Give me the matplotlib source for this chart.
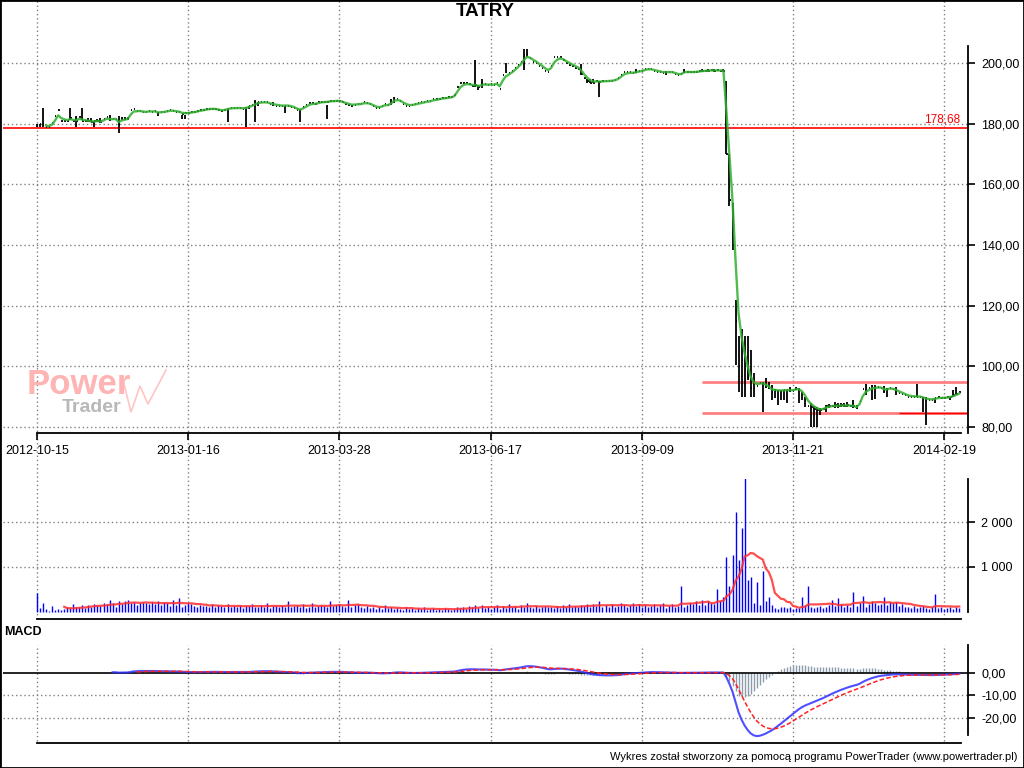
import numpy as np
import pandas as pd
import matplotlib
matplotlib.use("Agg")
import matplotlib.pyplot as plt
from matplotlib.lines import Line2D
from matplotlib.patches import Rectangle
from matplotlib.transforms import blended_transform_factory

W, H = 1024, 768

# --- dane ---
date_labels = ["2012-10-15", "2013-01-16", "2013-03-28", "2013-06-17",
               "2013-09-09", "2013-11-21", "2014-02-19"]
tick_bars = [0, 50, 100, 150, 200, 250, 300]

close = [
    179.5, 179.8, 180.0, 179.0, 179.0, 180.2, 182.5, 184.4, 181.0, 181.0,
    181.0, 181.8, 181.0, 181.0, 182.2, 181.0, 181.0, 180.8, 180.5, 180.8,
    181.0, 180.5, 181.5, 182.2, 181.3, 181.6, 181.6, 179.5, 181.6, 181.6,
    181.8, 184.5, 185.0, 184.2, 184.3, 183.8, 183.8, 184.2, 184.0, 184.1,
    183.4, 183.8, 184.0, 184.2, 184.5, 184.3, 184.0, 183.8, 183.2, 183.4,
    183.5, 183.8, 184.0, 184.2, 184.5, 184.6, 184.8, 185.0, 185.0, 184.8,
    184.5, 184.2, 184.6, 185.0, 185.3, 185.2, 185.2, 185.2, 185.0, 185.2,
    185.8, 186.2, 186.8, 187.2, 187.2, 187.1, 187.0, 186.5, 186.3, 186.0,
    186.0, 185.8, 186.0, 186.0, 185.6, 185.2, 184.5, 184.2, 185.5, 186.2,
    186.8, 186.8, 186.6, 187.0, 187.3, 187.2, 187.3, 187.5, 187.5, 187.6,
    187.5, 187.0, 186.5, 186.3, 186.0, 186.3, 186.5, 186.5, 187.0, 186.8,
    186.5, 185.8, 185.2, 185.2, 185.8, 186.5, 186.2, 187.0, 188.5, 188.0,
    187.5, 186.5, 186.0, 185.8, 186.2, 186.5, 186.8, 187.0, 187.2, 187.5,
    187.5, 188.0, 188.0, 188.3, 188.5, 188.5, 188.7, 188.8, 189.5, 192.0,
    193.5, 193.5, 193.3, 193.0, 192.5, 192.8, 192.0, 193.0, 193.2, 192.8,
    193.0, 192.8, 193.5, 191.5, 196.0, 197.0, 196.8, 197.5, 198.5, 199.5,
    200.5, 202.5, 203.0, 201.5, 200.5, 200.0, 199.0, 198.5, 197.5, 197.0,
    199.0, 202.0, 202.0, 202.0, 201.0, 200.0, 199.5, 199.0, 198.5, 198.0,
    196.5, 195.0, 194.0, 193.5, 193.5, 194.0, 193.8, 194.0, 194.0, 194.2,
    194.2, 194.5, 195.0, 196.0, 197.0, 197.0, 197.0, 196.8, 197.0, 197.5,
    197.5, 198.0, 198.2, 198.0, 197.5, 197.2, 197.0, 196.8, 197.0, 197.0,
    197.0, 196.5, 196.0, 196.3, 197.5, 197.2, 197.0, 197.0, 197.2, 197.3,
    197.5, 197.5, 197.4, 197.8, 197.5, 197.6, 197.5, 197.5, 170.0, 155.0,
    140.0, 115.0, 100.0, 102.0, 99.0, 96.0, 93.0, 93.0, 93.5, 94.5,
    94.5, 93.5, 92.8, 91.5, 92.0, 92.0, 92.0, 92.2, 92.2, 92.2,
    92.0, 92.8, 92.5, 91.0, 89.0, 87.0, 86.5, 86.0, 85.5, 85.5,
    86.0, 87.0, 87.0, 87.0, 87.2, 87.0, 87.2, 87.0, 87.2, 87.0,
    86.8, 86.2, 88.5, 92.5, 93.0, 92.8, 93.2, 93.0, 93.2, 93.0,
    92.0, 92.2, 93.0, 92.5, 92.0, 91.2, 91.0, 90.5, 90.0, 90.0,
    90.0, 90.0, 90.0, 89.5, 89.0, 89.0, 89.0, 89.5, 89.8, 89.6,
    89.7, 89.8, 90.0, 90.5, 91.0, 91.5,
]

# (sesja, minimum, maksimum) dla sesji z widocznym zakresem
wicks = [
    (0, 178.9, 180.0), (1, 178.9, 180.0), (2, 178.9, 185.2), (11, 181.2, 185.1),
    (13, 178.9, 182.4), (15, 181.2, 185.1), (17, 180.5, 182.0), (18, 180.5, 182.0),
    (19, 178.9, 181.0), (20, 180.5, 181.5), (21, 180.2, 182.0), (24, 181.0, 182.8),
    (27, 176.8, 182.4), (28, 181.2, 182.2), (29, 181.2, 182.2), (30, 181.2, 182.2),
    (40, 182.4, 183.8), (48, 181.4, 182.8), (49, 181.4, 182.8), (63, 180.7, 185.1),
    (69, 178.9, 185.4), (70, 184.8, 186.0), (72, 180.4, 187.9), (73, 185.8, 187.3),
    (78, 186.0, 187.1), (82, 183.6, 185.9), (87, 180.5, 184.7), (96, 181.6, 186.3),
    (117, 186.2, 188.3), (118, 186.8, 188.9), (145, 192.2, 201.0), (146, 191.1, 192.8),
    (147, 191.8, 194.7), (155, 196.6, 200.0), (161, 197.7, 204.7), (162, 202.1, 204.7),
    (180, 196.1, 199.6), (182, 193.4, 194.7), (183, 193.4, 194.7), (184, 193.4, 194.7),
    (186, 188.9, 194.2), (198, 196.6, 197.9), (208, 196.0, 197.5), (214, 196.6, 197.9),
    (220, 197.0, 198.0), (222, 197.0, 198.0), (224, 197.0, 198.0), (227, 197.0, 198.2),
    (228, 169.9, 194.2), (229, 153.0, 169.9), (230, 138.4, 153.9), (231, 100.6, 121.9),
    (232, 91.7, 110.0), (233, 90.0, 112.2), (234, 90.0, 110.0), (235, 95.5, 110.0),
    (236, 90.0, 105.4), (237, 90.0, 97.8), (240, 85.0, 94.9), (241, 92.9, 96.1),
    (242, 92.5, 94.9), (243, 88.9, 93.8), (244, 89.6, 92.4), (245, 87.4, 92.2),
    (246, 88.9, 92.2), (247, 88.9, 92.2), (248, 87.8, 92.2), (249, 91.6, 93.1),
    (251, 92.2, 93.1), (252, 87.8, 92.8), (253, 88.9, 91.6), (254, 86.7, 90.0),
    (256, 80.1, 87.8), (257, 80.1, 86.9), (258, 80.1, 86.7), (259, 84.0, 86.2),
    (261, 85.1, 87.3), (262, 86.2, 87.6), (264, 86.2, 88.4), (265, 86.2, 87.8),
    (266, 86.7, 88.0), (267, 86.7, 88.0), (268, 86.7, 88.4), (270, 86.2, 88.9),
    (271, 85.8, 87.3), (274, 90.6, 94.2), (276, 88.9, 93.8), (277, 89.2, 93.8),
    (280, 91.1, 93.4), (281, 90.0, 92.8), (284, 90.6, 93.1), (291, 90.0, 94.2),
    (293, 85.1, 90.0), (294, 80.7, 90.0), (297, 88.0, 89.5), (302, 88.9, 90.0),
    (303, 90.0, 92.2), (304, 90.6, 93.1),
]

volume = [
    420, 90, 210, 60, 30, 125, 45, 60, 40, 70,
    110, 95, 180, 120, 110, 150, 80, 160, 120, 180,
    150, 140, 200, 170, 260, 190, 120, 250, 170, 240,
    260, 210, 230, 150, 200, 230, 190, 170, 220, 180,
    240, 150, 230, 200, 140, 260, 160, 300, 120, 150,
    200, 170, 140, 110, 160, 130, 140, 120, 180, 100,
    150, 130, 100, 170, 110, 140, 120, 150, 90, 140,
    130, 180, 110, 120, 150, 100, 200, 90, 130, 140,
    110, 160, 120, 250, 100, 130, 150, 110, 170, 90,
    120, 200, 110, 140, 160, 130, 100, 240, 130, 150,
    170, 140, 120, 260, 110, 150, 180, 120, 90, 140,
    80, 120, 60, 100, 70, 150, 90, 110, 60, 90,
    70, 50, 110, 60, 80, 40, 90, 60, 100, 50,
    60, 80, 40, 70, 50, 90, 60, 40, 70, 120,
    80, 110, 60, 140, 100, 150, 80, 160, 90, 120,
    60, 110, 150, 70, 130, 90, 180, 100, 140, 70,
    160, 120, 200, 110, 90, 140, 80, 120, 130, 100,
    110, 90, 130, 80, 150, 100, 170, 120, 140, 110,
    150, 130, 170, 110, 180, 140, 240, 120, 160, 100,
    170, 120, 140, 190, 160, 110, 150, 210, 130, 170,
    120, 160, 100, 140, 180, 120, 150, 200, 90, 130,
    170, 110, 140, 585, 120, 160, 200, 180, 250, 150,
    270, 160, 240, 200, 170, 500, 250, 330, 1215, 570,
    1275, 2215, 1163, 1867, 2993, 720, 770, 200, 667, 163,
    904, 250, 326, 150, 90, 70, 120, 100, 80, 110,
    60, 80, 90, 326, 150, 570, 120, 80, 100, 140,
    90, 120, 160, 260, 130, 311, 180, 100, 150, 120,
    452, 140, 200, 363, 120, 180, 240, 200, 150, 170,
    341, 160, 230, 190, 220, 140, 170, 120, 100, 90,
    130, 80, 110, 140, 90, 60, 100, 407, 80, 120,
    60, 90, 110, 70, 100, 80,
]

price_ticks = [80, 100, 120, 140, 160, 180, 200]
volume_ticks = [1000, 2000]
volume_tick_labels = ["1 000", "2 000"]
macd_ticks = [0, -10, -20]
support_level = 178.68
channel_top = 94.9
channel_bottom = 84.7
channel_start = 220

plt.rcParams['font.family'] = ['Liberation Sans', 'DejaVu Sans']


def rect(l, t, r, b):
    # prostokat w pikselach -> ulamki figury
    return [l / W, 1 - b / H, (r - l) / W, (b - t) / H]


def pl(v):
    return f"{v:.2f}".replace(".", ",")


n = len(close)
x = np.arange(n)
c = pd.Series(close, dtype=float)
x_lo, x_hi = -11.24, 307.87
last_x = n - 0.6
grid_c = '#808080'
dot = (0, (1, 2))

fig = plt.figure(figsize=(W / 100, H / 100), dpi=100)

# ---------- wykres ceny ----------
axp = fig.add_axes(rect(3, 46, 968, 433))
axp.set_facecolor('none')
axp.set_xlim(x_lo, x_hi)
axp.set_ylim(78.02, 205.62)
for v in price_ticks:
    axp.axhline(v, color=grid_c, lw=1, ls=dot, zorder=0)

axp.axhline(support_level, color='red', lw=1.2, zorder=1)
axp.text(305.2, 179.3, pl(support_level), color='red', ha='right', va='bottom', fontsize=8.5)
axp.hlines([channel_top, channel_bottom], channel_start, x_hi, color='#ff8080', lw=2, zorder=1)
axp.hlines(channel_bottom, 285, x_hi, color='red', lw=1, zorder=1)

wi = [w[0] for w in wicks]
wl = [w[1] for w in wicks]
wh = [w[2] for w in wicks]
axp.vlines(wi, wl, wh, color='black', lw=1.3, zorder=2)
axp.hlines(c, x, x + 0.45, color='black', lw=1.3, zorder=2)
ema = c.ewm(span=3, adjust=False).mean()
axp.plot(x[3:], ema[3:], color='#30b030', lw=1.7, alpha=0.85, zorder=3)

# ---------- wolumen ----------
axv = fig.add_axes(rect(3, 479, 968, 619))
axv.set_facecolor('none')
axv.set_xlim(x_lo, x_hi)
axv.set_ylim(-155.6, 2955.6)
for v in volume_ticks:
    axv.axhline(v, color=grid_c, lw=1, ls=dot, zorder=0)
axv.vlines(x, 0, volume, color='#0000ff', lw=1, zorder=2)
vma = pd.Series(volume, dtype=float).rolling(10).mean()
axv.plot(x, vma, color='#ff3030', lw=1.6, alpha=0.85, zorder=3)

# ---------- MACD ----------
axm = fig.add_axes(rect(3, 645, 968, 743))
axm.set_facecolor('none')
axm.set_xlim(x_lo, x_hi)
axm.set_ylim(-31.11, 12.44)
for v in macd_ticks[1:]:
    axm.axhline(v, color=grid_c, lw=1, ls=dot, zorder=0)
ema12 = c.ewm(span=12, adjust=False).mean()
ema26 = c.ewm(span=26, adjust=False).mean()
macd = ema12 - ema26
signal = macd.ewm(span=9, adjust=False).mean()
hist = macd - signal
axm.vlines(x[25:], 0, hist[25:], color='#8c9cac', lw=1, zorder=1)
axm.axhline(0, color='black', lw=1.2, zorder=2)
axm.plot(x[25:], macd[25:], color='#3030ff', lw=1.5, alpha=0.85, zorder=3)
axm.plot(x[33:], signal[33:], color='#ff2020', lw=1.1, ls=(0, (3, 1.5)), zorder=4)

# ---------- osie ----------
for ax, ticks, labels, bounds in [
        (axp, price_ticks, [pl(v) for v in price_ticks], None),
        (axv, volume_ticks, volume_tick_labels, (0, 2955.6)),
        (axm, macd_ticks, [pl(v) for v in macd_ticks], (-27.6, 12.44))]:
    ax.spines['top'].set_visible(False)
    ax.spines['left'].set_visible(False)
    ax.spines['right'].set_linewidth(1.3)
    ax.spines['bottom'].set_linewidth(1.3)
    ax.spines['bottom'].set_bounds(0, last_x)
    if bounds:
        ax.spines['right'].set_bounds(*bounds)
    ax.yaxis.tick_right()
    ax.set_yticks(ticks)
    ax.set_yticklabels(labels)
    ax.tick_params(axis='y', direction='out', length=5, width=1.2, labelsize=9, pad=4.5)

axp.set_xticks(tick_bars)
axp.set_xticklabels(date_labels)
axp.tick_params(axis='x', direction='out', length=5, width=1.2, labelsize=9, pad=4)
axv.set_xticks([])
axm.set_xticks([])

# pionowe linie siatki przez caly wykres
trans = blended_transform_factory(axp.transData, fig.transFigure)
for b in tick_bars:
    fig.add_artist(Line2D([b, b], [1 - 619 / H, 1.0], transform=trans,
                          color=grid_c, lw=1, ls=dot, zorder=-1))
    fig.add_artist(Line2D([b, b], [1 - 741 / H, 1 - 645 / H], transform=trans,
                          color=grid_c, lw=1, ls=dot, zorder=-1))

# ---------- teksty ----------
fig.text(485 / W, 1 - 12 / H, "TATRY", ha='center', va='center', fontsize=13.5, fontweight='bold')
fig.text(4 / W, 1 - 632 / H, "MACD", ha='left', va='center', fontsize=9, fontweight='bold')
fig.text(1018 / W, 1 - 757 / H,
         "Wykres został stworzony za pomocą programu PowerTrader (www.powertrader.pl)",
         ha='right', va='center', fontsize=8)

# znak wodny
fig.text(27 / W, 1 - 385 / H, "Power", color='#ffb4b4', fontsize=25, fontweight='bold',
         ha='left', va='center', zorder=-1)
fig.text(62 / W, 1 - 408 / H, "Trader", color='#b8b8b8', fontsize=14, fontweight='bold',
         ha='left', va='center', zorder=-1)
wx = [122, 131, 140, 148, 166]
wy = [376, 412, 386, 404, 370]
fig.add_artist(Line2D([v / W for v in wx], [1 - v / H for v in wy], transform=fig.transFigure,
                      color='#ffc4c4', lw=1.2, zorder=-1))

fig.add_artist(Rectangle((0, 0), 1, 1, transform=fig.transFigure, fill=False,
                         edgecolor='black', lw=2))

fig.savefig("out.png", dpi=100)
